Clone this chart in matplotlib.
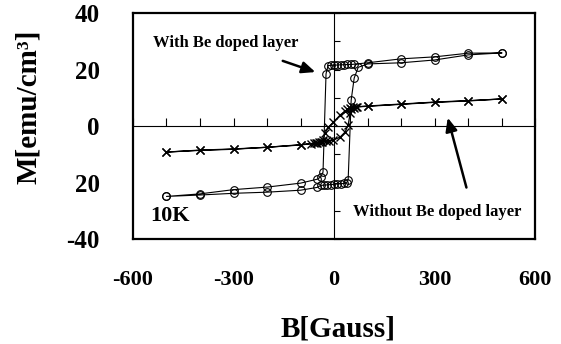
import matplotlib
matplotlib.use("Agg")
import matplotlib.pyplot as plt
from matplotlib.ticker import MultipleLocator

plt.rcParams['font.family'] = ['Liberation Serif', 'DejaVu Serif']
plt.rcParams['font.weight'] = 'bold'
plt.rcParams['axes.labelweight'] = 'bold'
plt.rcParams['axes.unicode_minus'] = False

# With Be doped layer (circles): descending then ascending branch
be_desc_b = [500, 400, 300, 200, 100, 60, 50, 40, 30, 20, 10, 0, -10, -18, -24,
             -33, -40, -50, -100, -200, -300, -400, -500]
be_desc_m = [25.9, 25.8, 24.5, 23.8, 22.4, 21.9, 21.8, 21.8, 21.7, 21.7, 21.6, 21.6, 21.5, 21.4, 18.5,
             -16.3, -18.0, -18.8, -20.2, -21.6, -22.5, -24.0, -24.9]
be_asc_b = [-500, -400, -300, -200, -100, -50, -40, -30, -20, -10, 0, 10, 20, 30, 38, 42,
            51, 60, 72, 100, 200, 300, 400, 500]
be_asc_m = [-24.9, -24.4, -23.8, -23.4, -22.7, -21.7, -21.0, -20.9, -20.8, -20.7, -20.6, -20.5, -20.4, -20.3, -20.0, -19.0,
            9.2, 17.0, 20.8, 22.0, 22.4, 23.4, 25.2, 25.9]

# Without Be doped layer (crosses)
nb_desc_b = [500, 400, 300, 200, 100, 65, 55, 48, 40, 33, 18, -2, -17, -27, -33,
             -40, -50, -60, -100, -200, -300, -400, -500]
nb_desc_m = [9.6, 9.0, 8.5, 7.8, 7.1, 6.8, 6.6, 6.4, 6.0, 5.3, 3.9, 1.4, -0.4, -2.5, -5.0,
             -5.6, -5.9, -6.1, -6.7, -7.5, -8.2, -8.6, -9.2]
nb_asc_b = [-500, -400, -300, -200, -100, -70, -55, -45, -35, -25, -15, -3, 18, 33, 42,
            48, 51, 58, 68, 100, 200, 300, 400, 500]
nb_asc_m = [-9.2, -8.5, -8.1, -7.5, -6.6, -6.2, -6.0, -5.8, -5.6, -5.4, -5.2, -5.0, -3.9, -2.1, 0.4,
            4.5, 6.0, 6.5, 6.8, 7.0, 7.7, 8.4, 8.9, 9.6]

x_ticks = [-600, -300, 0, 300, 600]
y_ticks = [-40, -20, 0, 20, 40]
y_labels = ['-40', '20', '0', '20', '40']

fig = plt.figure(figsize=(5.61, 3.44), dpi=100)
ax = fig.add_axes([0.237, 0.305, 0.717, 0.657])

ax.plot(be_desc_b + be_asc_b, be_desc_m + be_asc_m, color='black', lw=0.8,
        marker='o', ms=5.5, mfc='none', mec='black', mew=0.8)
ax.plot(nb_desc_b + nb_asc_b, nb_desc_m + nb_asc_m, color='black', lw=0.9,
        marker='x', ms=6, mew=1.0)

ax.set_xlim(-600, 600)
ax.set_ylim(-40, 40)
ax.set_xticks(x_ticks)
ax.set_yticks(y_ticks)
ax.set_yticklabels(y_labels)
ax.tick_params(axis='x', length=0, pad=22, labelsize=16)
ax.tick_params(axis='y', length=0, pad=24, labelsize=18)
for s in ax.spines.values():
    s.set_linewidth(1.6)

# axes crossing at zero
sx = ax.secondary_xaxis(0.5)
sx.xaxis.set_major_locator(MultipleLocator(100))
sx.tick_params(direction='out', length=6, width=0.8, labeltop=False, labelbottom=False)
sx.spines['top'].set_linewidth(0.8)
sy = ax.secondary_yaxis(0.5)
sy.yaxis.set_major_locator(MultipleLocator(10))
sy.tick_params(direction='out', length=4, width=0.8, labelright=False, labelleft=False)
sy.spines['right'].set_linewidth(0.8)

ax.set_xlabel('B[Gauss]', fontsize=21)
ax.xaxis.set_label_coords(0.51, -0.34)
ax.set_ylabel('M[emu/cm³]', fontsize=21)
ax.yaxis.set_label_coords(-0.227, 0.585)

arrow = dict(arrowstyle='-|>,head_length=0.8,head_width=0.35', lw=1.8, color='black')
ax.text(-540, 29.5, 'With Be doped layer', fontsize=12, va='center', ha='left')
ax.annotate('', xy=(-48, 18.8), xytext=(-161, 23.4), arrowprops=arrow)
ax.text(57, -30.5, 'Without Be doped layer', fontsize=12, va='center', ha='left')
ax.annotate('', xy=(337, 3.9), xytext=(397, -22.7), arrowprops=arrow)
ax.text(-549, -32, '10K', fontsize=16, va='center', ha='left')

fig.savefig('out.png', dpi=100)
